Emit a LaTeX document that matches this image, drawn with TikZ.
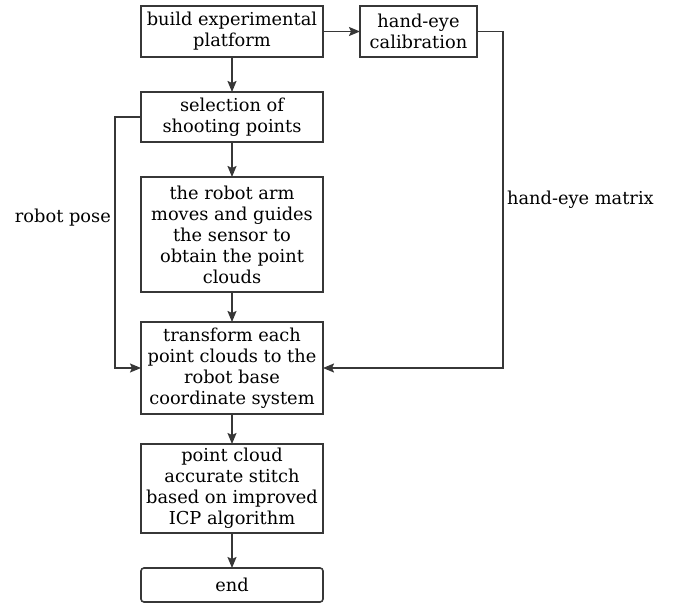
\documentclass[tikz,border=0pt]{standalone}
\usepackage{fontspec}
\setmainfont{DejaVu Serif}
\usetikzlibrary{arrows.meta, positioning}
\definecolor{lineg}{RGB}{55,55,55}

\begin{document}
\begin{tikzpicture}[
    x=1pt, y=-1pt,
    node distance=35pt and 37pt,
    box/.style={draw=lineg, line width=1.6pt, outer sep=0pt, minimum width=182pt, inner sep=1.5pt, align=center, font=\fontsize{17.8}{21}\selectfont},
    arr/.style={-{Stealth[length=11pt, width=9pt, inset=2pt]}, line width=1.6pt, color=lineg},
    lbl/.style={font=\fontsize{17.8}{21}\selectfont, text=black}
  ]
  \useasboundingbox (0,0) rectangle (675,604);
  \node[box, minimum height=51pt] (build) at (232,31.5) {build experimental\\platform};
  \node[box, minimum width=117pt, minimum height=51pt, right=37pt of build] (calib) {hand-eye\\calibration};
  \node[box, minimum height=50pt, below=of build] (select) {selection of\\shooting points};
  \node[box, minimum height=115pt, below=of select] (move) {the robot arm\\moves and guides\\the sensor to\\obtain the point\\clouds};
  \node[box, minimum height=92pt, below=30pt of move] (trans) {transform each\\point clouds to the\\robot base\\coordinate system};
  \node[box, minimum height=89pt, below=30pt of trans] (stitch) {point cloud\\accurate stitch\\based on improved\\ICP algorithm};
  \node[box, minimum height=34pt, rounded corners=3pt, below=35pt of stitch] (end) {end};
  \coordinate (poseline) at (115,0);
  \coordinate (matline) at (503,0);
  \draw[arr] (build) -- (select);
  \draw[arr] (select) -- (move);
  \draw[arr] (move) -- (trans);
  \draw[arr] (trans) -- (stitch);
  \draw[arr] (stitch) -- (end);
  \draw[arr] (build.east |- calib.west) -- (calib.west);
  \draw[arr] (select.west) -- (select.west -| poseline) |- (trans.west)
    node[lbl, pos=0.2, left] {robot pose};
  \draw[arr] (calib.east) -- (calib.east -| matline) |- (trans.east)
    node[lbl, pos=0.25, right] {hand-eye matrix};
\end{tikzpicture}
\end{document}
